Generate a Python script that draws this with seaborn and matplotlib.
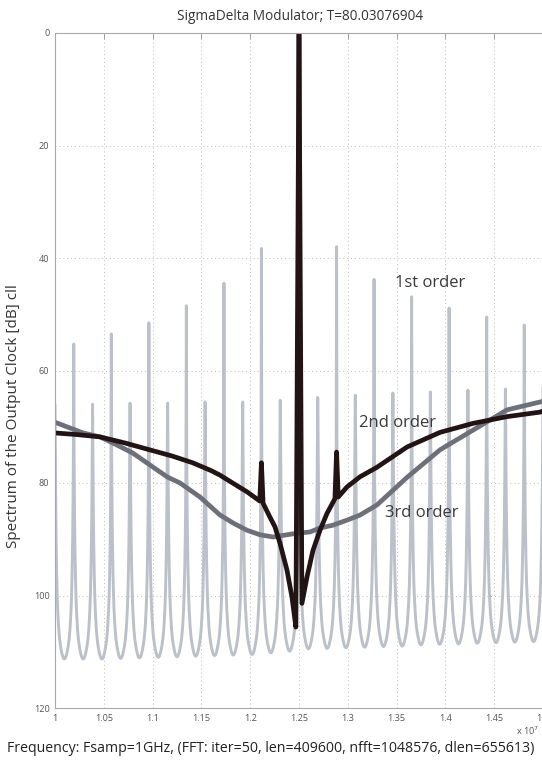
import numpy as np
import pandas as pd
import matplotlib
matplotlib.use("Agg")
import matplotlib.pyplot as plt
import seaborn as sns

# ---------------- data ----------------
# 1st order: idle-tone spikes (frequency in units of 1e7) and their tops [dB]
spike_freq = [1.0000, 1.0192, 1.0385, 1.0577, 1.0769, 1.0962, 1.1154, 1.1346,
              1.1538, 1.1731, 1.1923, 1.2115, 1.2308, 1.2500, 1.2692, 1.2885,
              1.3077, 1.3269, 1.3462, 1.3654, 1.3846, 1.4038, 1.4231, 1.4423,
              1.4615, 1.4808, 1.5000]
spike_top = [66.0, 55.3, 66.0, 53.5, 65.8, 51.5, 65.8, 48.5, 65.6, 44.5, 65.6,
             38.3, 65.3, 0.0, 64.8, 38.0, 64.4, 43.8, 64.0, 46.9, 63.8, 48.9,
             63.5, 50.5, 63.3, 51.9, 63.0]
# floor of each lobe between two neighbouring spikes [dB]
lobe_floor = [111.3, 111.3, 111.3, 111.2, 111.1, 111.0, 110.9, 110.8, 110.7,
              110.6, 110.5, 110.2, 109.9, 109.5, 109.4, 109.3, 109.2, 109.1,
              109.0, 108.8, 108.7, 108.6, 108.5, 108.4, 108.3, 108.2]
# lobe profile: distance from a spike (fraction of spacing) -> dB above the floor level
lobe_pos = [0.02, 0.04, 0.06, 0.09, 0.12, 0.15, 0.20, 0.25, 0.30, 0.35, 0.40, 0.45, 0.50]
lobe_rise = [36.0, 27.0, 21.0, 15.0, 11.0, 8.3, 5.3, 3.4, 2.2, 1.3, 0.6, 0.15, 0.0]

# 2nd order
f2 = [1.000, 1.023, 1.046, 1.072, 1.097, 1.120, 1.141, 1.160, 1.169, 1.182,
      1.197, 1.2098, 1.2115, 1.2132, 1.220, 1.2254, 1.2305, 1.2377, 1.2428,
      1.2468, 1.2500, 1.2530, 1.2582, 1.2643, 1.2715, 1.2787, 1.2868, 1.2885,
      1.2902, 1.2992, 1.3125, 1.3299, 1.3607, 1.3945, 1.4283, 1.4631, 1.4969, 1.500]
s2 = [71.1, 71.4, 71.8, 72.9, 74.1, 75.2, 76.4, 77.8, 78.6, 80.0,
      81.6, 83.2, 76.4, 83.6, 86.0, 87.8, 90.7, 95.5, 100.3,
      105.6, 0.0, 101.4, 96.7, 92.0, 88.4, 85.4, 82.8, 74.5,
      82.5, 80.7, 78.9, 77.2, 73.6, 71.0, 69.4, 68.2, 67.4, 67.2]

# 3rd order
f3 = [1.000, 1.0287, 1.0461, 1.0629, 1.0799, 1.0973, 1.1148, 1.1281, 1.1486,
      1.1691, 1.1824, 1.1967, 1.2100, 1.2234, 1.2377, 1.2492, 1.2500, 1.2508,
      1.2613, 1.2715, 1.2848, 1.2992, 1.3125, 1.3299, 1.3607, 1.3945, 1.4283,
      1.4631, 1.4969, 1.500]
s3 = [69.2, 71.1, 71.8, 73.2, 74.7, 76.8, 78.9, 80.0, 82.5,
      85.7, 87.1, 88.4, 89.2, 89.6, 89.2, 88.9, 0.0, 88.9,
      88.7, 88.0, 87.5, 86.6, 85.7, 83.9, 79.0, 74.1, 70.6,
      67.0, 65.6, 65.5]

xticks = [1.0, 1.05, 1.1, 1.15, 1.2, 1.25, 1.3, 1.35, 1.4, 1.45, 1.5]
xtick_labels = ["1", "1.05", "1.1", "1.15", "1.2", "1.25", "1.3", "1.35", "1.4", "1.45", "1.5"]
yticks = [0, 20, 40, 60, 80, 100, 120]

# ---------------- build 1st order trace from the read values ----------------
# (dB axis is inverted: lobe walls climb toward smaller dB values near each spike)
f1, s1 = [], []
for i in range(len(spike_freq) - 1):
    a, b = spike_freq[i], spike_freq[i + 1]
    d = b - a
    f1.append(a); s1.append(spike_top[i])
    for u, r in zip(lobe_pos, lobe_rise):
        f1.append(a + u * d); s1.append(lobe_floor[i] - r)
    for u, r in reversed(list(zip(lobe_pos[:-1], lobe_rise[:-1]))):
        f1.append(b - u * d); s1.append(lobe_floor[i] - r)
f1.append(spike_freq[-1]); s1.append(spike_top[-1])

df1 = pd.DataFrame({"f": f1, "s": s1})
df2 = pd.DataFrame({"f": f2, "s": s2})
df3 = pd.DataFrame({"f": f3, "s": s3})

# ---------------- plot ----------------
sns.set_theme(style="white")
plt.rcParams["font.family"] = ["Open Sans", "DejaVu Sans"]

W, H = 542, 760
fig = plt.figure(figsize=(W / 100, H / 100), dpi=100)
ax = fig.add_axes([55 / W, (H - 708) / H, (543 - 55) / W, (708 - 33) / H])

sns.lineplot(data=df1, x="f", y="s", ax=ax, sort=False, estimator=None,
             color="#bcc0c9", lw=2.1)
sns.lineplot(data=df3, x="f", y="s", ax=ax, sort=False, estimator=None,
             color="#6e7079", lw=3.4)
sns.lineplot(data=df2, x="f", y="s", ax=ax, sort=False, estimator=None,
             color="#221314", lw=3.4)

ax.set_xlim(1.0, 1.5)
ax.set_ylim(120, 0)
ax.set_xticks(xticks)
ax.set_xticklabels(xtick_labels)
ax.set_yticks(yticks)
ax.set_xlabel("")
ax.set_ylabel("")
ax.grid(True, linestyle=(0, (1, 3)), color="#bdbdbd", lw=0.7)
ax.set_axisbelow(True)
for sp in ax.spines.values():
    sp.set_color("#a8a8a8")
    sp.set_linewidth(0.8)
ax.tick_params(direction="in", length=4, width=0.7, color="#a0a0a0",
               labelcolor="#555555", labelsize=6.6, top=True, pad=4)

txt = "#3a3a3a"
ax.text(1.384, 44.4, "1st order", ha="center", va="center", fontsize=12, color=txt)
ax.text(1.351, 69.3, "2nd order", ha="center", va="center", fontsize=12, color=txt)
ax.text(1.376, 85.3, "3rd order", ha="center", va="center", fontsize=12, color=txt)

fig.text(300 / W, 1 - 17 / H, "SigmaDelta Modulator; T=80.03076904",
         ha="center", va="center", fontsize=9.8, color="#333333")
fig.text(271 / W, 1 - 749 / H,
         "Frequency: Fsamp=1GHz, (FFT: iter=50, len=409600, nfft=1048576, dlen=655613)",
         ha="center", va="center", fontsize=10.2, color="#222222")
fig.text(14 / W, 1 - 416 / H, "Spectrum of the Output Clock [dB] cll",
         ha="center", va="center", rotation=90, fontsize=11, color="#333333")
fig.text(516 / W, 1 - 731 / H, r"x 10$^{7}$", ha="left", va="center",
         fontsize=6.6, color="#555555")

fig.savefig("out.png", dpi=100, facecolor="white")
